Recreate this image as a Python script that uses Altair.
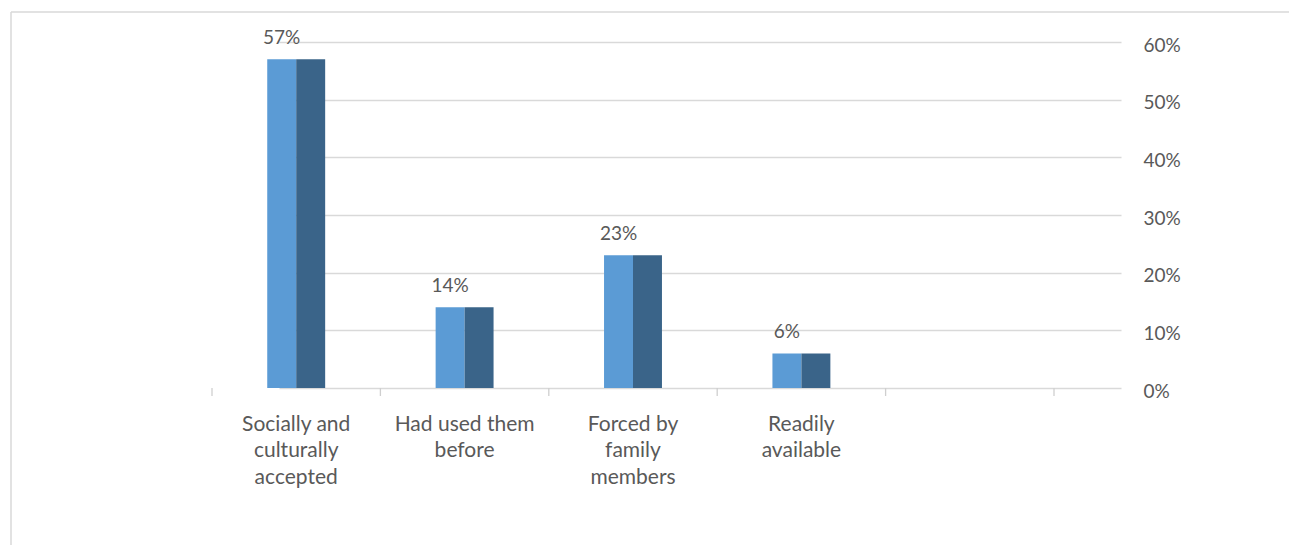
import json
import altair as alt
import pandas as pd

categories = ["Socially and culturally accepted", "Had used them before",
              "Forced by family members", "Readily available"]
values = [0.57, 0.14, 0.23, 0.06]
series = ["Series 1", "Series 2"]
label_lines = [["Socially and", "culturally", "accepted"],
               ["Had used them", "before"],
               ["Forced by", "family", "members"],
               ["Readily", "available"]]
empty_slot = ""
x_domain = categories + [empty_slot]
boundaries = [0, 1, 2, 3, 4, 5]
y_ticks = [0, 0.1, 0.2, 0.3, 0.4, 0.5, 0.6]
colors = ["#5B9BD5", "#3A6489"]

rows = []
for c, v in zip(categories, values):
    for s in series:
        rows.append({"category": c, "series": s, "value": v})
df = pd.DataFrame(rows)

mapping = {c: l for c, l in zip(categories, label_lines)}
label_expr = "(" + json.dumps(mapping) + ")[datum.label] || ''"

FONT = "Lato"
GREY = "#595959"
GRID = "#d9d9d9"
X_RANGE = [2, 844]

x_scale = alt.Scale(domain=x_domain, range=X_RANGE, paddingInner=0.656, paddingOuter=0.328)

x_enc = alt.X("category:N", scale=x_scale, sort=None,
              axis=alt.Axis(title=None, labelExpr=label_expr, labelAngle=0,
                            ticks=False, domain=False, labelPadding=25,
                            labelLineHeight=26.5, labelFontSize=21, labelColor=GREY,
                            labelFont=FONT, labelBaseline="top"))
y_enc = alt.Y("value:Q", scale=alt.Scale(domain=[0, 0.6], nice=False),
              axis=alt.Axis(title=None, orient="right", values=y_ticks, format=".0%",
                            domain=False, ticks=False, grid=True, gridColor=GRID,
                            gridWidth=1.3, labelPadding=20, labelFontSize=19,
                            labelOffset=3, labelColor=GREY, labelFont=FONT))

bars = alt.Chart(df).mark_bar().encode(
    x=x_enc,
    y=y_enc,
    xOffset=alt.XOffset("series:N", scale=alt.Scale(domain=series, paddingInner=0, paddingOuter=0)),
    color=alt.Color("series:N", scale=alt.Scale(domain=series, range=colors), legend=None),
)

labels = alt.Chart(df).transform_filter(
    alt.datum.series == series[0]
).mark_text(font=FONT, fontSize=19, color=GREY, baseline="alphabetic", dy=-15).encode(
    x=alt.X("category:N", scale=x_scale, sort=None),
    y=alt.Y("value:Q"),
    xOffset=alt.XOffset("series:N", scale=alt.Scale(domain=series, paddingInner=0, paddingOuter=0)),
    text=alt.Text("value:Q", format=".0%"),
)

main = alt.layer(bars, labels)

ticks = alt.Chart(pd.DataFrame({"b": boundaries})).mark_rule(color="#cfcfcf", strokeWidth=1.3).encode(
    x=alt.X("b:Q", scale=alt.Scale(domain=[0, 5], range=X_RANGE, nice=False, zero=False), axis=None),
    y=alt.value(346), y2=alt.value(354))

frame_data = alt.Data(values=[{}])
frame_top = alt.Chart(frame_data).mark_rule(color=GRID, strokeWidth=1.5).encode(
    x=alt.value(-199), x2=alt.value(1079), y=alt.value(-30))
frame_left = alt.Chart(frame_data).mark_rule(color=GRID, strokeWidth=1.5).encode(
    x=alt.value(-199), y=alt.value(-30), y2=alt.value(503))

chart = alt.layer(frame_top, frame_left, main, ticks).resolve_scale(x="independent").properties(
    width=913, height=346,
    autosize=alt.AutoSizeParams(type="none"),
    padding={"left": 210, "top": 42, "right": 166, "bottom": 157},
    background="white",
).configure_view(stroke=None)

chart.save("out.html", embed_options={"renderer": "svg", "actions": False})
